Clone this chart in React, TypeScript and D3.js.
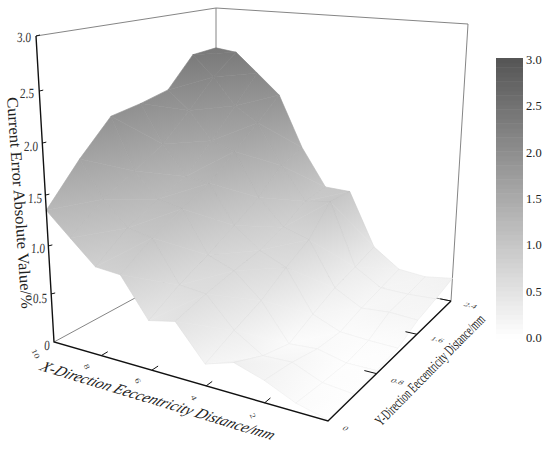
import React from "react";
import * as d3 from "d3";

const xValues = [10, 9, 8, 7, 6, 5, 4, 3, 2, 1, 0];
const yValues = [0, 0.4, 0.8, 1.2, 1.6, 2.0, 2.4];
// one row per x value, each holding z along yValues
const zRows = [
  [1.35, 1.74, 2.08, 2.13, 2.2, 2.53, 2.55],
  [1.13, 1.38, 1.55, 1.73, 2.0, 2.3, 2.52],
  [0.9, 1.14, 1.3, 1.42, 1.7, 2.0, 2.3],
  [0.88, 1.09, 1.25, 1.39, 1.62, 1.84, 2.07],
  [0.49, 0.67, 0.82, 0.99, 1.16, 1.4, 1.5],
  [0.55, 0.64, 0.71, 0.77, 0.88, 1.04, 1.08],
  [0.21, 0.34, 0.46, 0.64, 0.79, 1.08, 1.07],
  [0.3, 0.16, 0.08, 0.2, 0.31, 0.38, 0.46],
  [0.21, 0.17, 0.1, 0.08, 0.15, 0.2, 0.25],
  [0.08, 0.05, 0.03, 0.06, 0.17, 0.19, 0.22],
  [0.01, 0.02, 0.03, 0.05, 0.15, 0.2, 0.26],
];
const xTicks = [10, 8, 6, 4, 2];
const yTicks = [0, 0.8, 1.6, 2.4];
const zTicks = [0, 0.5, 1, 1.5, 2, 2.5, 3];
const barTicks = ["3.0", "2.5", "2.0", "1.5", "1.0", "0.5", "0.0"];

type P = [number, number];

// unit square -> quad, (0,0) (1,0) (1,1) (0,1)
function quadMap(a: P, b: P, c: P, d: P) {
  const dx1 = b[0] - c[0], dx2 = d[0] - c[0], sx = a[0] - b[0] + c[0] - d[0];
  const dy1 = b[1] - c[1], dy2 = d[1] - c[1], sy = a[1] - b[1] + c[1] - d[1];
  const den = dx1 * dy2 - dx2 * dy1;
  const g = (sx * dy2 - dx2 * sy) / den;
  const h = (dx1 * sy - sx * dy1) / den;
  return (u: number, v: number): P => {
    const w = g * u + h * v + 1;
    return [
      ((b[0] - a[0] + g * b[0]) * u + (d[0] - a[0] + h * d[0]) * v + a[0]) / w,
      ((b[1] - a[1] + g * b[1]) * u + (d[1] - a[1] + h * d[1]) * v + a[1]) / w,
    ];
  };
}

const floor = quadMap([54, 342], [328, 421], [451, 301], [216, 254]);
const ceil = quadMap([36, 36], [336, 72], [468, 24], [216, 8]);
const uScale = d3.scaleLinear().domain([10, 0]).range([0, 1]);
const vScale = d3.scaleLinear().domain([0, 2.4]).range([0, 1]);
// height is not quite even on the picture, perspective
const wScale = d3.scaleLinear().domain(zTicks).range([0, 0.157, 0.314, 0.48, 0.65, 0.82, 1]);
const project = (x: number, y: number, z: number): P => {
  const f = floor(uScale(x), vScale(y));
  const t = ceil(uScale(x), vScale(y));
  const w = wScale(z);
  return [f[0] + (t[0] - f[0]) * w, f[1] + (t[1] - f[1]) * w];
};

const LOW = "#ffffff";
const HIGH = "#555555";
const SURFACE_HIGH = "#626262"; // the surface reads a bit lighter than the bar
const color = d3.scaleLinear<string>().domain([0, 3]).range([LOW, HIGH]);
const surfaceColor = d3.scaleLinear<string>().domain([0, 3]).range([LOW, SURFACE_HIGH]);
const line = d3.line();

const FONT = "'Liberation Serif', 'Times New Roman', serif";

function Tri({ id, pts, zs }: { id: string; pts: P[]; zs: number[] }) {
  const [a, b, c] = pts;
  const det = (b[0] - a[0]) * (c[1] - a[1]) - (c[0] - a[0]) * (b[1] - a[1]);
  const gx = ((zs[1] - zs[0]) * (c[1] - a[1]) - (zs[2] - zs[0]) * (b[1] - a[1])) / det;
  const gy = ((zs[2] - zs[0]) * (b[0] - a[0]) - (zs[1] - zs[0]) * (c[0] - a[0])) / det;
  const g2 = gx * gx + gy * gy;
  const d = line([a, b, c]) + "Z";
  if (g2 < 1e-9) {
    const col = surfaceColor(zs[0]);
    return <path d={d} fill={col} stroke={col} strokeWidth={0.6} />;
  }
  return (
    <g>
      <linearGradient
        id={id}
        gradientUnits="userSpaceOnUse"
        x1={a[0] - (zs[0] * gx) / g2}
        y1={a[1] - (zs[0] * gy) / g2}
        x2={a[0] + ((3 - zs[0]) * gx) / g2}
        y2={a[1] + ((3 - zs[0]) * gy) / g2}
      >
        <stop offset="0" stopColor={LOW} />
        <stop offset="1" stopColor={SURFACE_HIGH} />
      </linearGradient>
      <path d={d} fill={`url(#${id})`} stroke={`url(#${id})`} strokeWidth={0.6} />
    </g>
  );
}

function Label(props: {
  x: number; y: number; rotate: number; skew?: number; scaleX?: number; scaleY?: number;
  size: number; len?: number; italic?: boolean; color?: string; text: string;
}) {
  const { x, y, rotate, skew = 0, scaleX = 1, scaleY = 1, size, len, italic, text } = props;
  return (
    <text
      transform={`translate(${x},${y}) rotate(${rotate}) skewX(${skew}) scale(${scaleX},${scaleY})`}
      textAnchor="middle"
      dominantBaseline="middle"
      fontFamily={FONT}
      fontSize={size}
      fontStyle={italic ? "italic" : "normal"}
      fill={props.color ?? "#222"}
      textLength={len}
      lengthAdjust={len ? "spacingAndGlyphs" : undefined}
    >
      {text}
    </text>
  );
}

export default function App() {
  const corners = {
    o: project(10, 0, 0),
    front: project(0, 0, 0),
    right: project(0, 2.4, 0),
    back: project(10, 2.4, 0),
    oTop: project(10, 0, 3),
    rightTop: project(0, 2.4, 3),
    backTop: project(10, 2.4, 3),
  };

  const cells: React.ReactNode[] = [];
  // back to front, far corner is x=10, y=2.4
  for (let i = 0; i < xValues.length - 1; i++) {
    for (let j = yValues.length - 2; j >= 0; j--) {
      const p00 = project(xValues[i], yValues[j], zRows[i][j]);
      const p01 = project(xValues[i], yValues[j + 1], zRows[i][j + 1]);
      const p10 = project(xValues[i + 1], yValues[j], zRows[i + 1][j]);
      const p11 = project(xValues[i + 1], yValues[j + 1], zRows[i + 1][j + 1]);
      cells.push(
        <g key={`${i}-${j}`}>
          <Tri id={`a${i}-${j}`} pts={[p00, p01, p11]} zs={[zRows[i][j], zRows[i][j + 1], zRows[i + 1][j + 1]]} />
          <Tri id={`b${i}-${j}`} pts={[p00, p11, p10]} zs={[zRows[i][j], zRows[i + 1][j + 1], zRows[i + 1][j]]} />
          <path d={line([p00, p01, p11, p10]) + "Z"} fill="none" stroke="#777" strokeOpacity={0.08} strokeWidth={0.7} />
        </g>
      );
    }
  }

  const barY = d3.scaleLinear().domain([0, 3]).range([338, 58]);
  const labelY = d3.scaleLinear().domain([0, 3]).range([338, 60]);
  const barLevels = d3.range(0, 3, 0.05);
  const xLabelPos: P[] = [[35, 354], [86, 367], [137, 381], [193, 398], [252, 416]];
  const yLabelPos: P[] = [[345, 429], [397, 382], [437, 340], [470, 306]];
  const zLabelPos: P[] = [[47, 347], [40, 300], [38, 250], [35, 200], [31, 148], [27, 95], [24, 39]];

  return (
    <svg width={550} height={450} style={{ position: "absolute", left: 0, top: 0, background: "#fff" }}>
      {/* back walls */}
      <g fill="none" stroke="#777" strokeWidth={0.9}>
        <path d={line([corners.oTop, corners.backTop, corners.rightTop, corners.right]) ?? ""} />
        <path d={line([corners.backTop, corners.back]) ?? ""} />
        <path d={line([corners.o, corners.back, corners.right]) ?? ""} />
      </g>

      {cells}

      {/* axes */}
      <g fill="none" stroke="#111" strokeWidth={1.4}>
        <path d={line([corners.oTop, corners.o, corners.front, corners.right]) ?? ""} />
        {xTicks.slice(1).map((t) => (
          <path key={t} strokeWidth={1} d={line([project(t, 0, 0), project(t, 0.08, 0)]) ?? ""} />
        ))}
        {yTicks.slice(1).map((t) => (
          <path key={t} strokeWidth={1} d={line([project(0, t, 0), project(0.4, t, 0)]) ?? ""} />
        ))}
        {zTicks.slice(1).map((t) => {
          const p = project(10, 0, t);
          return <path key={t} strokeWidth={1} d={line([p, [p[0] + 4, p[1] - 1]]) ?? ""} />;
        })}
      </g>

      {xTicks.map((t, i) => (
        <Label key={t} x={xLabelPos[i][0]} y={xLabelPos[i][1]} rotate={65} scaleY={0.75} size={10} color="#444" text={String(t)} />
      ))}
      {yTicks.map((t, i) => (
        <Label key={t} x={yLabelPos[i][0]} y={yLabelPos[i][1]} rotate={14} skew={-30} scaleY={0.6} size={10} color="#444" text={i === 0 ? "0" : t.toFixed(1)} />
      ))}
      {zTicks.map((t, i) => (
        <Label key={t} x={zLabelPos[i][0]} y={zLabelPos[i][1]} rotate={0} skew={-3} scaleX={0.8} size={14} color="#333" text={i === 0 ? "0" : t.toFixed(1)} />
      ))}

      <Label x={157} y={402} rotate={16.8} skew={-20} size={15} len={243} italic text="X-Direction Eeccentricity Distance/mm" />
      <Label x={431} y={371} rotate={-45.5} size={15} scaleX={0.63} text="Y-Direction Eeccentricity Distance/mm" />
      <Label x={18} y={203} rotate={86} size={16} len={212} text="Current Error Absolute Value/%" />

      {/* color bar */}
      {barLevels.map((v) => (
        <rect key={v} x={496} width={27} y={barY(v + 0.05)} height={barY(v) - barY(v + 0.05) + 0.5} fill={color(v + 0.025)} />
      ))}
      {barTicks.map((t) => (
        <text key={t} x={526} y={labelY(+t) + 4} fontFamily={FONT} fontSize={12.5} fill="#222">
          {t}
        </text>
      ))}
    </svg>
  );
}
